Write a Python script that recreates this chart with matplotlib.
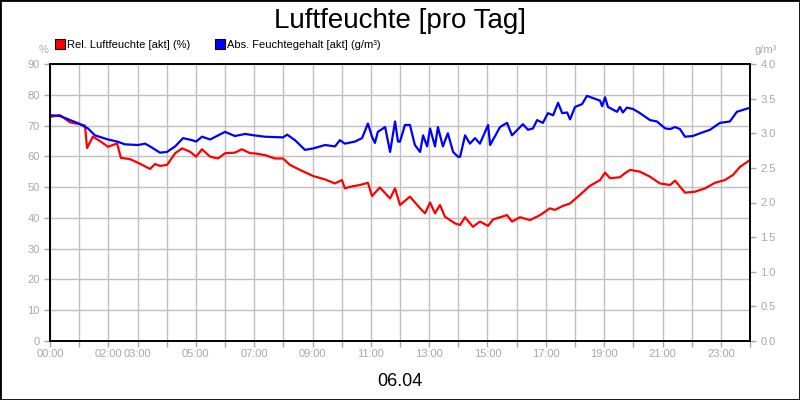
import matplotlib
matplotlib.use("Agg")
import matplotlib.pyplot as plt
from matplotlib.lines import Line2D
from matplotlib.patches import Rectangle

plt.rcParams['font.family'] = ['Liberation Sans', 'DejaVu Sans']

# Daten (Stunden seit 00:00)
rel_time = [0, 0.34, 0.69, 0.99, 1.2, 1.27, 1.47, 1.71, 1.99, 2.3, 2.43, 2.74, 3.02,
            3.43, 3.6, 3.77, 4.01, 4.29, 4.53, 4.8, 5.01, 5.21, 5.49, 5.76, 6.0, 6.34,
            6.58, 6.86, 6.99, 7.37, 7.71, 7.99, 8.23, 8.57, 9.02, 9.43, 9.77, 10.01,
            10.11, 10.29, 10.63, 10.9, 11.04, 11.31, 11.66, 11.83, 12.0, 12.34, 12.69,
            12.86, 13.03, 13.2, 13.37, 13.54, 13.89, 14.06, 14.23, 14.5, 14.74, 15.02,
            15.19, 15.43, 15.67, 15.84, 16.11, 16.46, 16.8, 17.14, 17.31, 17.59, 17.83,
            18.1, 18.51, 18.86, 19.03, 19.2, 19.54, 19.71, 19.89, 20.23, 20.57, 20.91,
            21.26, 21.43, 21.77, 22.11, 22.46, 22.8, 23.14, 23.42, 23.66, 24.0]
rel_values = [72.8, 73.4, 71.0, 70.5, 70.0, 62.7, 66.4, 65.0, 63.1, 64.2, 59.5, 59.1, 57.9,
              55.9, 57.5, 56.9, 57.2, 61.0, 62.6, 61.5, 59.9, 62.3, 59.9, 59.3, 61.0, 61.2,
              62.3, 61.0, 61.0, 60.4, 59.3, 59.3, 57.2, 55.6, 53.6, 52.5, 51.2, 52.3,
              49.6, 50.1, 50.7, 51.4, 47.1, 49.9, 46.3, 49.6, 44.2, 46.9, 43.1,
              41.5, 45.0, 41.5, 44.2, 40.4, 38.2, 37.7, 40.2, 37.1, 38.8, 37.4,
              39.5, 40.2, 40.9, 38.8, 40.2, 39.3, 40.9, 43.1, 42.6, 43.9, 44.7,
              46.9, 50.4, 52.3, 54.7, 52.9, 53.2, 54.5, 55.6, 55.0, 53.4, 51.2,
              50.7, 52.1, 48.2, 48.5, 49.6, 51.4, 52.3, 54.0, 56.6, 58.8]

abs_time = [0, 0.34, 0.69, 0.99, 1.3, 1.54, 1.99, 2.3, 2.57, 3.02, 3.26, 3.43, 3.77, 4.01,
            4.29, 4.56, 4.87, 5.01, 5.21, 5.49, 6.0, 6.34, 6.69, 6.99, 7.37, 7.99, 8.13,
            8.4, 8.74, 9.02, 9.43, 9.77, 9.94, 10.11, 10.46, 10.7, 10.9, 11.04, 11.14,
            11.24, 11.49, 11.66, 11.83, 11.93, 12.0, 12.17, 12.34, 12.51, 12.69, 12.79,
            12.93, 13.03, 13.2, 13.3, 13.47, 13.64, 13.82, 13.99, 14.06, 14.23, 14.4,
            14.57, 14.74, 15.02, 15.09, 15.43, 15.67, 15.84, 16.21, 16.39, 16.56, 16.7,
            16.9, 17.07, 17.25, 17.42, 17.56, 17.73, 17.83, 18.0, 18.24, 18.41, 18.86,
            18.93, 19.03, 19.13, 19.44, 19.54, 19.64, 19.78, 19.99, 20.23, 20.57, 20.81,
            21.09, 21.26, 21.43, 21.6, 21.77, 22.04, 22.29, 22.63, 22.97, 23.31, 23.55,
            23.93]
abs_values = [3.26, 3.25, 3.19, 3.14, 3.07, 2.97, 2.91, 2.88, 2.84, 2.83, 2.85, 2.81, 2.72,
              2.73, 2.81, 2.93, 2.90, 2.88, 2.95, 2.91, 3.02, 2.96, 2.99, 2.97, 2.95, 2.94,
              2.98, 2.90, 2.76, 2.78, 2.83, 2.81, 2.90, 2.85, 2.88, 2.93, 3.14, 2.95, 2.86,
              3.02, 3.09, 2.73, 3.17, 2.88, 2.88, 3.12, 3.12, 2.83, 2.73, 2.97,
              2.81, 3.07, 2.81, 3.09, 2.81, 3.00, 2.73, 2.66, 2.66, 2.97, 2.85,
              2.93, 2.85, 3.12, 2.83, 3.09, 3.15, 2.97, 3.13, 3.05, 3.07, 3.19,
              3.15, 3.29, 3.26, 3.44, 3.29, 3.30, 3.20, 3.38, 3.42, 3.54, 3.47,
              3.39, 3.52, 3.38, 3.31, 3.38, 3.30, 3.37, 3.35, 3.29, 3.19, 3.17,
              3.07, 3.06, 3.09, 3.06, 2.95, 2.96, 3.00, 3.05, 3.15, 3.17, 3.31,
              3.36]

hour_ticks = list(range(25))
hour_labels = ['00:00', '', '02:00', '03:00', '', '05:00', '', '07:00', '', '09:00', '',
               '11:00', '', '13:00', '', '15:00', '', '17:00', '', '19:00', '', '21:00',
               '', '23:00', '']
left_ticks = list(range(0, 91, 10))
right_ticks = [0.0, 0.5, 1.0, 1.5, 2.0, 2.5, 3.0, 3.5, 4.0]

grey = '#a8a8a8'

fig = plt.figure(figsize=(8, 4), dpi=100, facecolor='white')
ax = fig.add_axes([0.0625, 0.1475, 0.875, 0.6925])
ax2 = ax.twinx()

ax.plot(rel_time, rel_values, color='#ff0000', lw=1.6)
ax2.plot(abs_time, abs_values, color='#0000ff', lw=1.6)

ax.set_xlim(0, 24)
ax.set_ylim(0, 90)
ax2.set_ylim(0, 4.0)

ax.set_xticks(hour_ticks)
ax.set_xticklabels(hour_labels)
ax.set_yticks(left_ticks)
ax2.set_yticks(right_ticks)
ax2.set_yticklabels(['%.1f' % v for v in right_ticks])

ax.grid(True, color='#c0c0c0', lw=1)
ax.set_axisbelow(True)

for a in (ax, ax2):
    a.tick_params(colors=grey, labelsize=8, length=4, width=1)
    for s in a.spines.values():
        s.set_color('black')
        s.set_linewidth(1.2)
ax.tick_params(axis='x', pad=2)

fig.suptitle('Luftfeuchte [pro Tag]', y=0.98, fontsize=20)
fig.text(0.054, 0.868, '%', color=grey, fontsize=8, ha='center')
fig.text(0.957, 0.868, 'g/m³', color=grey, fontsize=8, ha='center')
fig.text(0.5, 0.035, '06.04', fontsize=13, ha='center')

handles = [Line2D([], [], ls='', marker='s', markersize=7, markerfacecolor='#ff0000',
                  markeredgecolor='black', markeredgewidth=0.8),
           Line2D([], [], ls='', marker='s', markersize=7, markerfacecolor='#0000ff',
                  markeredgecolor='black', markeredgewidth=0.8)]
fig.legend(handles, ['Rel. Luftfeuchte [akt] (%)', 'Abs. Feuchtegehalt [akt] (g/m³)'],
           loc='upper left', bbox_to_anchor=(0.069, 0.9), ncol=2, frameon=False,
           fontsize=8, handlelength=0.8, handletextpad=0.3, columnspacing=2.2,
           borderaxespad=0, borderpad=0)

fig.add_artist(Rectangle((0, 0), 1, 1, transform=fig.transFigure, fill=False,
                         edgecolor='black', lw=2))

fig.savefig('out.png', dpi=100, facecolor='white')
